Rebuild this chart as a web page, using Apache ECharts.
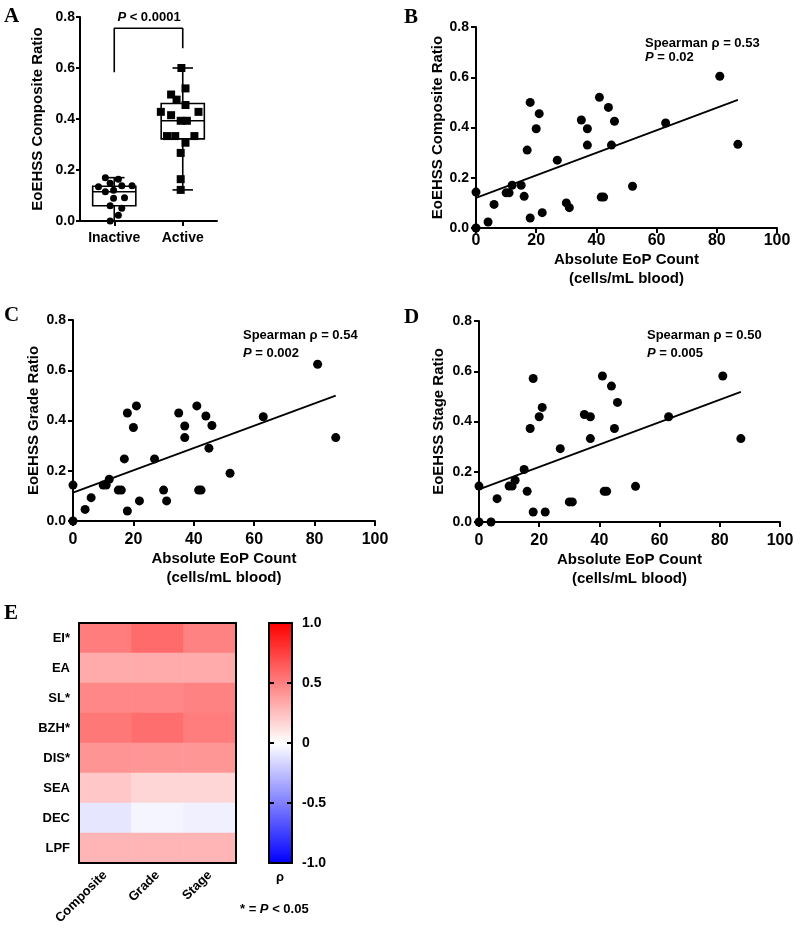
<!DOCTYPE html>
<html>
<head>
<meta charset="utf-8">
<script src="https://cdn.jsdelivr.net/npm/echarts@6/dist/echarts.min.js"></script>
<style>
html, body { margin: 0; padding: 0; background: #fff; }
#main { width: 800px; height: 931px; }
</style>
</head>
<body>
<div id="main"></div>
<script>
// ---- panel A : inactive vs active ----
var groups = ['Inactive', 'Active'];
var inactiveVals   = [0.17, 0.164, 0.148, 0.134, 0.138, 0.138, 0.115, 0.121, 0.089, 0.091, 0.06, 0.05, 0.023, 0.0];
var inactiveJitter = [-0.13, 0.06, -0.06, -0.23, 0.11, 0.26, -0.13, -0.01, -0.01, 0.15, -0.06, 0.11, 0.06, -0.06];
var activeVals   = [0.60, 0.52, 0.496, 0.476, 0.455, 0.428, 0.428, 0.415, 0.393, 0.393, 0.333, 0.333, 0.333, 0.307, 0.267, 0.164, 0.122];
var activeJitter = [-0.02, 0.04, -0.17, -0.09, 0.04, 0.23, -0.32, -0.17, -0.03, 0.06, -0.23, -0.11, 0.17, 0.04, -0.03, -0.03, -0.03];
// min, Q1, median, Q3, max
var boxInactive = [0, 0.06, 0.115, 0.136, 0.17];
var boxActive = [0.122, 0.322, 0.393, 0.461, 0.60];
var bracketA = [[1, 0.583], [1, 0.756], [2, 0.756], [2, 0.677]];

// ---- panels B, C, D : ratio vs EoP count ----
var eopCount = [0, 0, 4, 6, 10, 11, 12, 15, 16, 17, 18, 18, 20, 21, 22, 27, 30, 31, 35, 37, 37, 41, 41.6, 42.4, 44, 45, 46, 52, 63, 81, 87];
var compositeRatio = [0.143, 0, 0.024, 0.094, 0.14, 0.14, 0.17, 0.17, 0.126, 0.31, 0.50, 0.04, 0.395, 0.455, 0.061, 0.27, 0.10, 0.081, 0.43, 0.395, 0.33, 0.52, 0.123, 0.123, 0.48, 0.33, 0.425, 0.166, 0.418, 0.604, 0.333];
var gradeRatio = [0.143, 0, 0.046, 0.093, 0.143, 0.143, 0.166, 0.123, 0.123, 0.247, 0.43, 0.04, 0.372, 0.458, 0.08, 0.247, 0.123, 0.08, 0.43, 0.378, 0.332, 0.458, 0.123, 0.123, 0.418, 0.29, 0.38, 0.19, 0.415, 0.624, 0.332];
var stageRatio = [0.143, 0, 0, 0.093, 0.143, 0.143, 0.166, 0.209, 0.122, 0.372, 0.571, 0.04, 0.419, 0.456, 0.04, 0.292, 0.08, 0.08, 0.428, 0.419, 0.332, 0.581, 0.122, 0.122, 0.541, 0.372, 0.476, 0.142, 0.419, 0.581, 0.332];
var fitComposite = [[0, 0.12], [87, 0.51]];
var fitGrade = [[0, 0.113], [87, 0.499]];
var fitStage = [[0, 0.13], [87, 0.518]];

// ---- panel E : heatmap of spearman rho ----
var features = ['EI*', 'EA', 'SL*', 'BZH*', 'DIS*', 'SEA', 'DEC', 'LPF'];
var measures = ['Composite', 'Grade', 'Stage'];
var rhoComposite = [0.51, 0.33, 0.47, 0.53, 0.42, 0.22, -0.10, 0.29];
var rhoGrade     = [0.58, 0.33, 0.47, 0.57, 0.41, 0.16, -0.04, 0.29];
var rhoStage     = [0.49, 0.33, 0.49, 0.51, 0.41, 0.16, -0.06, 0.29];
var rhoTicks = [-1, 1, 0.5];

var FONT = 'Liberation Sans';
var SERIF = 'Liberation Serif';
var black = '#000';

function pairs(xs, ys) {
    return xs.map(function (x, i) { return [x, ys[i]]; });
}

function ratioAxis(grid, name, gap) {
    return {
        type: 'value', gridIndex: grid, min: 0, max: 0.8, interval: 0.2,
        name: name, nameLocation: 'middle', nameGap: gap,
        nameTextStyle: { fontSize: 15, fontWeight: 'bold', color: black, fontFamily: FONT },
        axisLine: { show: true, lineStyle: { color: black, width: 2 } },
        axisTick: { show: true, length: 5, lineStyle: { color: black, width: 2 } },
        axisLabel: { color: black, fontSize: 14, fontWeight: 'bold', fontFamily: FONT, margin: 7,
            formatter: function (v) { return v.toFixed(1); } },
        splitLine: { show: false }
    };
}

function countAxis(grid, margin, gap) {
    return {
        type: 'value', gridIndex: grid, min: 0, max: 100, interval: 20,
        name: 'Absolute EoP Count\n(cells/mL blood)', nameLocation: 'middle', nameGap: gap,
        nameTextStyle: { fontSize: 15, fontWeight: 'bold', color: black, fontFamily: FONT, lineHeight: 19 },
        axisLine: { show: true, lineStyle: { color: black, width: 2 } },
        axisTick: { show: true, length: 5, lineStyle: { color: black, width: 2 } },
        axisLabel: { color: black, fontSize: 16, fontWeight: 'bold', fontFamily: FONT, margin: margin },
        splitLine: { show: false }
    };
}

function dots(xi, yi, data) {
    return {
        type: 'scatter', xAxisIndex: xi, yAxisIndex: yi, data: data,
        symbol: 'circle', symbolSize: 9, clip: false,
        itemStyle: { color: black, opacity: 1 }, z: 3
    };
}

function fitLine(xi, yi, data) {
    return {
        type: 'line', xAxisIndex: xi, yAxisIndex: yi, data: data,
        symbol: 'none', lineStyle: { color: black, width: 1.8 }, z: 4
    };
}

// custom box-and-whisker for panel A
function renderBox(params, api) {
    var i = api.value(0);
    var lo = api.coord([i, api.value(1)]);
    var q1 = api.coord([i, api.value(2)]);
    var med = api.coord([i, api.value(3)]);
    var q3 = api.coord([i, api.value(4)]);
    var hi = api.coord([i, api.value(5)]);
    var band = api.size([1, 0])[0];
    var bw = band * 0.63 / 2, cw = band * 0.3 / 2;
    var x = lo[0];
    var st = { stroke: black, lineWidth: 1.6, fill: null };
    return {
        type: 'group',
        children: [
            { type: 'line', shape: { x1: x, y1: hi[1], x2: x, y2: q3[1] }, style: st },
            { type: 'line', shape: { x1: x, y1: q1[1], x2: x, y2: lo[1] }, style: st },
            { type: 'line', shape: { x1: x - cw, y1: hi[1], x2: x + cw, y2: hi[1] }, style: st },
            { type: 'line', shape: { x1: x - cw, y1: lo[1], x2: x + cw, y2: lo[1] }, style: st },
            { type: 'rect', shape: { x: x - bw, y: q3[1], width: 2 * bw, height: q1[1] - q3[1] },
                style: { stroke: black, lineWidth: 1.6, fill: '#fff' } },
            { type: 'line', shape: { x1: x - bw, y1: med[1], x2: x + bw, y2: med[1] }, style: st }
        ]
    };
}

var heatData = [];
features.forEach(function (f, r) {
    heatData.push([0, r, rhoComposite[r]], [1, r, rhoGrade[r]], [2, r, rhoStage[r]]);
});

var lineOnly = { show: true, onZero: false, lineStyle: { color: black, width: 2 } };

function letter(t, x, y) {
    return { type: 'text', x: x, y: y, style: { text: t, fontFamily: SERIF, fontWeight: 'bold', fontSize: 21,
        fill: black, textAlign: 'left', textVerticalAlign: 'middle' } };
}
function note(t, x, y, align) {
    return { type: 'text', x: x, y: y, style: { text: t, fontFamily: FONT, fontWeight: 'bold', fontSize: 13,
        fill: black, textAlign: align || 'left', textVerticalAlign: 'middle',
        rich: { i: { fontStyle: 'italic', fontWeight: 'bold', fontSize: 13, fontFamily: FONT, fill: black } } } };
}

var option = {
    animation: false,
    backgroundColor: '#fff',
    textStyle: { fontFamily: FONT },
    grid: [
        { left: 80, top: 17, width: 137, height: 204 },   // A
        { left: 476, top: 27, width: 301, height: 201 },  // B
        { left: 73, top: 320, width: 302, height: 201 },  // C
        { left: 479, top: 321, width: 301, height: 201 }, // D
        { left: 79, top: 623, width: 157, height: 240 },  // E heatmap
        { left: 269, top: 623, width: 23, height: 240 }   // colour bar
    ],
    xAxis: [
        {
            type: 'category', gridIndex: 0, data: groups,
            axisLine: { show: true, lineStyle: { color: black, width: 2 } },
            axisTick: { show: true, alignWithLabel: true, length: 5, lineStyle: { color: black, width: 2 } },
            axisLabel: { color: black, fontSize: 14, fontWeight: 'bold', fontFamily: FONT, margin: 10 }
        },
        { type: 'value', gridIndex: 0, min: 0.5, max: 2.5, show: false },
        countAxis(1, 5, 21),
        countAxis(2, 11, 28),
        countAxis(3, 11, 28),
        {
            type: 'category', gridIndex: 4, data: measures, z: 5,
            axisLine: lineOnly, axisTick: { show: false },
            axisLabel: { color: black, fontSize: 13, fontWeight: 'bold', fontFamily: FONT, rotate: 45, margin: 10 }
        },
        { type: 'category', gridIndex: 4, data: measures, position: 'top', z: 5,
            axisLine: lineOnly, axisTick: { show: false }, axisLabel: { show: false } },
        { type: 'value', gridIndex: 5, min: 0, max: 1, position: 'bottom', z: 10, axisLine: lineOnly,
            axisTick: { show: false }, axisLabel: { show: false }, splitLine: { show: false } },
        { type: 'value', gridIndex: 5, min: 0, max: 1, position: 'top', z: 10, axisLine: lineOnly,
            axisTick: { show: false }, axisLabel: { show: false }, splitLine: { show: false } }
    ],
    yAxis: [
        (function () {
            var a = ratioAxis(0, 'EoEHSS Composite Ratio', 35);
            a.axisTick.length = 4; a.axisLabel.margin = 5;
            return a;
        })(),
        ratioAxis(1, 'EoEHSS Composite Ratio', 29),
        ratioAxis(2, 'EoEHSS Grade Ratio', 32),
        ratioAxis(3, 'EoEHSS Stage Ratio', 33),
        {
            type: 'category', gridIndex: 4, data: features, inverse: true, z: 5,
            axisLine: lineOnly, axisTick: { show: false },
            axisLabel: { color: black, fontSize: 13, fontWeight: 'bold', fontFamily: FONT, margin: 9 }
        },
        { type: 'category', gridIndex: 4, data: features, inverse: true, position: 'right', z: 5,
            axisLine: lineOnly, axisTick: { show: false }, axisLabel: { show: false } },
        { type: 'value', gridIndex: 5, min: rhoTicks[0], max: rhoTicks[1], interval: rhoTicks[2], position: 'left', z: 10,
            axisLine: lineOnly, axisTick: { show: true, inside: true, length: 5, lineStyle: { color: black, width: 2 } },
            axisLabel: { show: false }, splitLine: { show: false } },
        { type: 'value', gridIndex: 5, min: rhoTicks[0], max: rhoTicks[1], interval: rhoTicks[2], position: 'right', z: 10,
            axisLine: lineOnly, axisTick: { show: true, inside: true, length: 5, lineStyle: { color: black, width: 2 } },
            axisLabel: { color: black, fontSize: 14, fontWeight: 'bold', fontFamily: FONT, margin: 10,
                formatter: function (v) { return v === 0 ? '0' : v.toFixed(1); } },
            splitLine: { show: false } }
    ],
    visualMap: {
        type: 'continuous', min: -1, max: 1, seriesIndex: 10, dimension: 2,
        inRange: { color: ['#0000ff', '#ffffff', '#ff0000'] },
        left: 269, top: 623, itemWidth: 23, itemHeight: 240, padding: 0, z: 1,
        orient: 'vertical', calculable: false, hoverLink: false, showLabel: false
    },
    series: [
        {   // 0 boxes
            type: 'custom', xAxisIndex: 0, yAxisIndex: 0, renderItem: renderBox, z: 2,
            encode: { x: 0, y: [1, 2, 3, 4, 5] },
            data: [[0].concat(boxInactive), [1].concat(boxActive)]
        },
        {   // 1 inactive dots
            type: 'scatter', xAxisIndex: 1, yAxisIndex: 0, symbol: 'circle', symbolSize: 7, clip: false, z: 3,
            itemStyle: { color: black, opacity: 1 },
            data: inactiveVals.map(function (v, i) { return [1 + inactiveJitter[i], v]; })
        },
        {   // 2 active squares
            type: 'scatter', xAxisIndex: 1, yAxisIndex: 0, symbol: 'rect', symbolSize: 8, clip: false, z: 3,
            itemStyle: { color: black, opacity: 1 },
            data: activeVals.map(function (v, i) { return [2 + activeJitter[i], v]; })
        },
        {   // 3 bracket
            type: 'line', xAxisIndex: 1, yAxisIndex: 0, data: bracketA, symbol: 'none',
            lineStyle: { color: black, width: 1.6 }
        },
        dots(2, 1, pairs(eopCount, compositeRatio)),  // 4
        fitLine(2, 1, fitComposite),                  // 5
        dots(3, 2, pairs(eopCount, gradeRatio)),      // 6
        fitLine(3, 2, fitGrade),                      // 7
        dots(4, 3, pairs(eopCount, stageRatio)),      // 8
        fitLine(4, 3, fitStage),                      // 9
        {   // 10 heatmap
            type: 'heatmap', xAxisIndex: 5, yAxisIndex: 4, data: heatData,
            itemStyle: { borderWidth: 0 }
        }
    ],
    graphic: [
        letter('A', 4, 17),
        letter('B', 404, 18),
        letter('C', 4, 316),
        letter('D', 404, 318),
        letter('E', 4, 614),
        note('{i|P} < 0.0001', 149, 17, 'center'),
        note('Spearman \u03c1 = 0.53', 645, 43),
        note('{i|P} = 0.02', 645, 57),
        note('Spearman \u03c1 = 0.54', 243, 335),
        note('{i|P} = 0.002', 243, 353),
        note('Spearman \u03c1 = 0.50', 647, 335),
        note('{i|P} = 0.005', 647, 353),
        note('\u03c1', 280, 877, 'center'),
        note('* = {i|P} < 0.05', 240, 909)
    ]
};

var chart = echarts.init(document.getElementById('main'));
chart.setOption(option);
</script>
</body>
</html>
